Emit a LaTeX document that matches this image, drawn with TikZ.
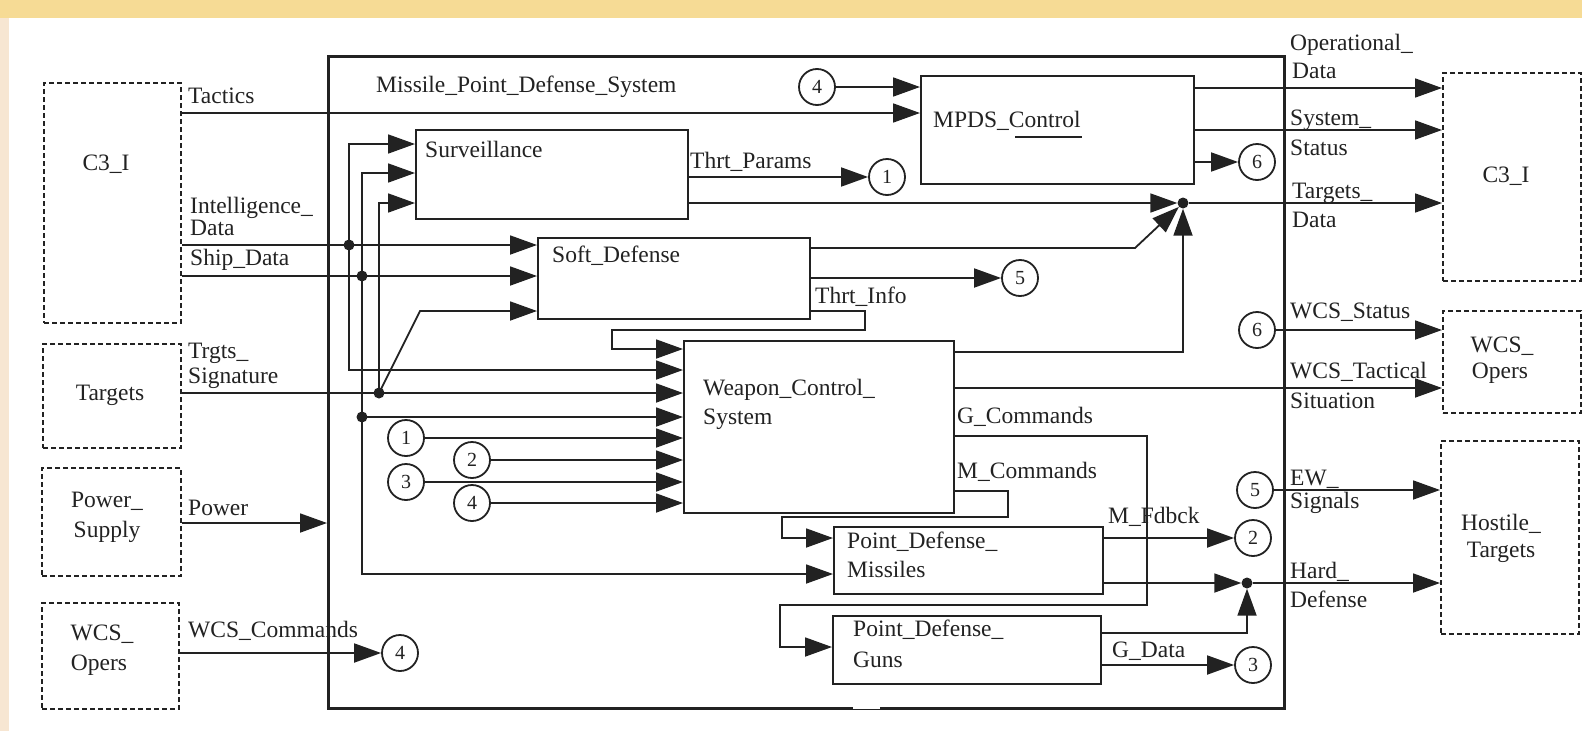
\documentclass[tikz,border=0pt]{standalone}
\usepackage{fontspec}
\setmainfont{Liberation Serif}
\usetikzlibrary{arrows.meta}
\definecolor{bgtop}{HTML}{F6DB95}
\definecolor{bgleft}{HTML}{F7E6D2}
\definecolor{ink}{HTML}{222222}
\begin{document}
\begin{tikzpicture}[x=1pt,y=-1pt,
  every node/.style={font=\fontsize{23.5}{27}\selectfont, text=ink},
  lbl/.style={inner sep=0pt, anchor=base west},
  clbl/.style={inner sep=0pt, anchor=base},
  ext/.style={draw=ink, line width=2.4pt, dash pattern=on 5pt off 3pt, inner sep=0pt, anchor=north west},
  blk/.style={draw=ink, line width=2.2pt, inner sep=0pt, anchor=north west},
  circ/.style={draw=ink, circle, line width=1.8pt, minimum size=36pt, inner sep=0pt, font=\fontsize{20}{24}\selectfont},
  wire/.style={draw=ink, line width=1.8pt},
  arr/.style={wire, -{Triangle[length=27pt,width=19pt]}},
  jdot/.style={circle, fill=ink, inner sep=0pt, minimum size=11pt},
]
% background
\useasboundingbox (0,0) rectangle (1582,731);
\fill[white] (0,0) rectangle (1582,731);
\fill[bgtop] (0,0) rectangle (1582,18);
\fill[bgleft] (0,18) rectangle (9,731);

% external boxes
\node[ext, minimum width=137pt, minimum height=240pt] (c3l) at (43,82) {};
\node[ext, minimum width=138pt, minimum height=104pt] (tgt) at (42,343) {};
\node[ext, minimum width=139pt, minimum height=108pt] (pwr) at (41,467) {};
\node[ext, minimum width=137pt, minimum height=106pt] (wcsl) at (41,602) {};
\node[ext, minimum width=138pt, minimum height=208pt] (c3r) at (1442,72) {};
\node[ext, minimum width=138pt, minimum height=102pt] (wcsr) at (1442,310) {};
\node[ext, minimum width=138pt, minimum height=193pt] (hos) at (1440,440) {};

\node[clbl] (t-c3l) at (106,170) {C3\_I};
\node[clbl] (t-tgt) at (110,400) {Targets};
\node[clbl] (t-pwr1) at (107,507) {Power\_};
\node[clbl] (t-pwr2) at (107,537) {Supply};
\node[clbl] (t-wl1) at (102,640) {WCS\_};
\node[clbl] (t-wl2) at (99,670) {Opers};
\node[clbl] (t-c3r) at (1506,182) {C3\_I};
\node[clbl] (t-wr1) at (1502,352) {WCS\_};
\node[clbl] (t-wr2) at (1500,378) {Opers};
\node[clbl] (t-h1) at (1501,530) {Hostile\_};
\node[clbl] (t-h2) at (1501,557) {Targets};

% main system box
\node[blk, line width=2.6pt, minimum width=956pt, minimum height=652pt] (mpds) at (327,55) {};
\draw[white, line width=4pt] (853,707) -- (880,707);
\node[lbl] (t-mpds) at (376,92) {Missile\_Point\_Defense\_System};

% inner blocks
\node[blk, minimum width=272pt, minimum height=89pt] (surv) at (415,129) {};
\node[blk, minimum width=272pt, minimum height=81pt] (soft) at (537,237) {};
\node[blk, minimum width=273pt, minimum height=108pt] (mpdsc) at (920,75) {};
\node[blk, minimum width=270pt, minimum height=172pt] (wcs) at (683,340) {};
\node[blk, minimum width=269pt, minimum height=67pt] (pdm) at (833,526) {};
\node[blk, minimum width=268pt, minimum height=68pt] (pdg) at (832,615) {};

\node[lbl] (t-surv) at (425,157) {Surveillance};
\node[lbl] (t-soft) at (552,262) {Soft\_Defense};
\node[lbl] (t-mc) at (933,127) {MPDS\_Control};
\draw[ink, line width=2.5pt] (1015,137) -- (1082,137);
\node[lbl] (t-wcs1) at (703,395) {Weapon\_Control\_};
\node[lbl] (t-wcs2) at (703,424) {System};
\node[lbl] (t-pdm1) at (847,548) {Point\_Defense\_};
\node[lbl] (t-pdm2) at (847,577) {Missiles};
\node[lbl] (t-pdg1) at (853,636) {Point\_Defense\_};
\node[lbl] (t-pdg2) at (853,667) {Guns};

% circles
\node[circ] (m4) at (817,87) {4};
\node[circ] (c1) at (887,177) {1};
\node[circ] (c5) at (1020,278) {5};
\node[circ] (c6a) at (1257,162) {6};
\node[circ] (c6b) at (1257,330) {6};
\node[circ] (c5b) at (1255,490) {5};
\node[circ] (c2) at (1253,538) {2};
\node[circ] (c3) at (1253,665) {3};
\node[circ] (w1) at (406,438) {1};
\node[circ] (w2) at (472,460) {2};
\node[circ] (w3) at (406,482) {3};
\node[circ] (w4) at (472,503) {4};
\node[circ] (cw4) at (400,653) {4};

% junction dots
\node[jdot] (d1) at (349,245) {};
\node[jdot] (d2) at (362,276) {};
\node[jdot] (d3) at (379,393) {};
\node[jdot] (d4) at (362,417) {};
\node[jdot] (dT) at (1183,203) {};
\node[jdot] (dH) at (1247,583) {};

% external inputs
\draw[arr] (c3l.east |- 0,113) -- (mpdsc.west |- 0,113);
\draw[arr] (c3l.east |- 0,245) -- (soft.west |- 0,245);
\draw[arr] (c3l.east |- 0,276) -- (soft.west |- 0,276);
\draw[arr] (tgt.east |- d3) -- (wcs.west |- d3);
\draw[arr] (pwr.east |- 0,523) -- (mpds.west |- 0,523);
\draw[arr] (wcsl.east |- cw4) -- (cw4);

\node[lbl] (t-tac) at (188,103) {Tactics};
\node[lbl] (t-int1) at (190,213) {Intelligence\_};
\node[lbl] (t-int2) at (190,235) {Data};
\node[lbl] (t-ship) at (190,265) {Ship\_Data};
\node[lbl] (t-ts1) at (188,358) {Trgts\_};
\node[lbl] (t-ts2) at (188,383) {Signature};
\node[lbl] (t-pow) at (188,515) {Power};
\node[lbl] (t-wcmd) at (188,637) {WCS\_Commands};

% distribution buses
\draw[arr] (d1.center) |- (surv.west |- 0,144);
\draw[arr] (d1.center) |- (wcs.west |- 0,370);
\draw[arr] (d2.center) |- (surv.west |- 0,173);
\draw[wire] (d2.center) -- (d4.center);
\draw[arr] (d4.center) -- (wcs.west |- d4);
\draw[arr] (d4.center) |- (pdm.west |- 0,574);
\draw[arr] (d3.center) |- (surv.west |- 0,203);
\coordinate (bend1) at (420,311);
\draw[arr] (d3.center) -- (bend1) -- (soft.west |- bend1);

% MPDS_Control
\draw[arr] (m4) -- (mpdsc.west |- m4);
\draw[arr] (mpdsc.east |- 0,88) -- (c3r.west |- 0,88);
\draw[arr] (mpdsc.east |- 0,130) -- (c3r.west |- 0,130);
\draw[arr] (mpdsc.east |- c6a) -- (c6a);

% Surveillance outputs
\draw[arr] (surv.east |- c1) -- (c1);
\draw[arr] (surv.east |- dT) -- (dT);
\node[lbl] (t-tp) at (690,168) {Thrt\_Params};

% Soft_Defense outputs
\coordinate (bend2) at (1135,248);
\draw[arr] (soft.east |- bend2) -- (bend2) -- (dT);
\draw[arr] (soft.east |- c5) -- (c5);
\draw[arr] (soft.east |- 0,311) -- (865,311) -- (865,330) -- (612,330) -- (612,349) -- (wcs.west |- 0,349);
\node[lbl] (t-ti) at (815,303) {Thrt\_Info};

% WCS inputs from connectors
\draw[arr] (w1) -- (wcs.west |- w1);
\draw[arr] (w2) -- (wcs.west |- w2);
\draw[arr] (w3) -- (wcs.west |- w3);
\draw[arr] (w4) -- (wcs.west |- w4);

% WCS outputs
\draw[arr] (wcs.east |- 0,352) -| (dT);
\draw[arr] (wcs.east |- 0,388) -- (wcsr.west |- 0,388);
\draw[arr] (wcs.east |- 0,436) -- (1147,436) -- (1147,605) -- (780,605) -- (780,647) -- (pdg.west |- 0,647);
\draw[arr] (wcs.east |- 0,491) -- (1008,491) -- (1008,517) -- (782,517) -- (782,538) -- (pdm.west |- 0,538);
\node[lbl] (t-gc) at (957,423) {G\_Commands};
\node[lbl] (t-mcm) at (957,478) {M\_Commands};

% Targets data
\draw[arr] (dT) -- (c3r.west |- dT);

% PDM / PDG outputs
\draw[arr] (pdm.east |- c2) -- (c2);
\draw[arr] (pdm.east |- dH) -- (dH);
\draw[arr] (pdg.east |- 0,633) -- (1247,633) -- (dH);
\draw[arr] (pdg.east |- c3) -- (c3);
\node[lbl] (t-mf) at (1108,523) {M\_Fdbck};
\node[lbl] (t-gd) at (1112,657) {G\_Data};

% right side outputs
\draw[arr] (c6b) -- (wcsr.west |- c6b);
\draw[arr] (c5b) -- (hos.west |- c5b);
\draw[arr] (dH) -- (hos.west |- dH);

\node[lbl] (t-od1) at (1290,50) {Operational\_};
\node[lbl] (t-od2) at (1292,78) {Data};
\node[lbl] (t-ss1) at (1290,125) {System\_};
\node[lbl] (t-ss2) at (1290,155) {Status};
\node[lbl] (t-td1) at (1292,198) {Targets\_};
\node[lbl] (t-td2) at (1292,227) {Data};
\node[lbl] (t-ws) at (1290,318) {WCS\_Status};
\node[lbl] (t-wt1) at (1290,378) {WCS\_Tactical};
\node[lbl] (t-wt2) at (1290,408) {Situation};
\node[lbl] (t-ew1) at (1290,485) {EW\_};
\node[lbl] (t-ew2) at (1290,508) {Signals};
\node[lbl] (t-hd1) at (1290,578) {Hard\_};
\node[lbl] (t-hd2) at (1290,607) {Defense};
\end{tikzpicture}
\end{document}
